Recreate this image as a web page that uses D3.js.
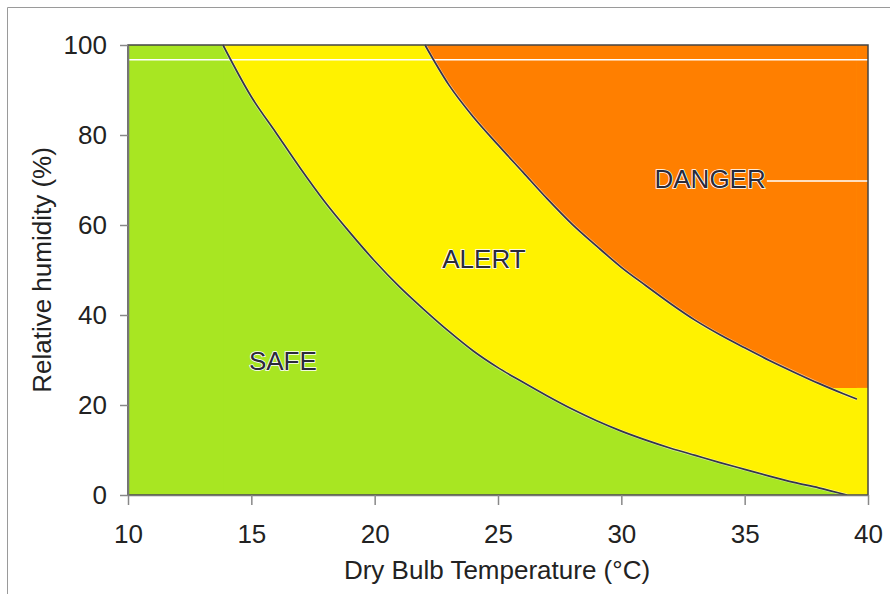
<!DOCTYPE html>
<html>
<head>
<meta charset="utf-8">
<script src="https://cdn.jsdelivr.net/npm/d3@7"></script>
<style>
  html, body { margin: 0; padding: 0; background: #fff; }
  svg { display: block; font-family: "Liberation Sans", Arial, sans-serif; }
</style>
</head>
<body>
<svg id="chart" width="890" height="594"></svg>
<script>
// ---- data ----
const xTicks = [10, 15, 20, 25, 30, 35, 40];
const yTicks = [0, 20, 40, 60, 80, 100];

// SAFE / ALERT boundary (temperature °C, relative humidity %)
const safeTemp = [13.85, 15,   16,   17,   18, 19,   20, 21,   22,   23,   24, 25,   26,   27, 28,   29,   30,   31,   32,   33,  34,  35,  36,  37,  38,  39.15];
const safeRH   = [100,   88.5, 80.5, 72.5, 65, 58.3, 52, 46.3, 41.2, 36.4, 32, 28.3, 25.1, 22, 19.1, 16.5, 14.2, 12.2, 10.4, 8.8, 7.2, 5.7, 4.2, 2.8, 1.6, 0];

// ALERT / DANGER boundary
const dangerTemp = [22.04, 23,   24, 25,   26,   27,   28,   29,   30,   31,   32,   33,   34,   35,   36,   37,   38,   39,   39.55];
const dangerRH   = [100,   91.2, 84, 77.8, 71.8, 65.8, 60.2, 55.3, 50.6, 46.5, 42.5, 38.8, 35.6, 32.7, 29.9, 27.3, 24.8, 22.5, 21.3];
const dangerFloorRH = 23.8;   // orange fill stops here at the right edge

const zoneNames = ["SAFE", "ALERT", "DANGER"];
const zoneTemp  = [16.28, 24.43, 33.6];
const zoneRH    = [27.8, 50.4, 68.2];

// white artefact lines in the original picture: [T0, T1, RH]
const whiteLines = [[10, 40, 96.7], [35.9, 40, 69.8]];

const xLabel = "Dry Bulb Temperature (°C)";
const yLabel = "Relative humidity (%)";

// ---- layout ----
const svg = d3.select("#chart");
const m = { left: 128, top: 45, right: 890 - 868, bottom: 594 - 495 };
const W = 890 - m.left - m.right, H = 594 - m.top - m.bottom;

const x = d3.scaleLinear().domain([10, 40]).range([0, W]);
const y = d3.scaleLinear().domain([0, 100]).range([H, 0]);

// outer frame of the picture
svg.append("path").attr("d", "M7.5,594 V7.5 H890").attr("fill", "none").attr("stroke", "#9a9a9a").attr("stroke-width", 1);

const g = svg.append("g").attr("transform", `translate(${m.left},${m.top})`);

const colGreen = "#a8e622", colYellow = "#fff200", colOrange = "#ff7f00";

// yellow background (ALERT)
g.append("rect").attr("width", W).attr("height", H).attr("fill", colYellow);

const safePts = safeTemp.map((t, i) => [t, safeRH[i]]);
const dangerPts = dangerTemp.map((t, i) => [t, dangerRH[i]]);
const curve = d3.curveMonotoneX;

// green region (SAFE)
const area = d3.area().x(d => x(d[0])).y1(d => y(d[1])).y0(H).curve(curve);
g.append("path").attr("d", area(safePts)).attr("fill", colGreen);
g.append("rect").attr("x", 0).attr("y", 0).attr("width", x(safeTemp[0]) + 0.5).attr("height", H).attr("fill", colGreen);

// orange region (DANGER)
g.append("clipPath").attr("id", "dclip")
  .append("rect").attr("x", 0).attr("y", 0).attr("width", W).attr("height", y(dangerFloorRH));
const areaTop = d3.area().x(d => x(d[0])).y1(d => y(d[1])).y0(0).curve(curve);
g.append("path")
  .attr("d", areaTop(dangerPts))
  .attr("fill", colOrange)
  .attr("clip-path", "url(#dclip)");
const lastDT = dangerTemp[dangerTemp.length - 1];
g.append("rect")
  .attr("x", x(lastDT) - 0.5)
  .attr("y", 0)
  .attr("width", W - x(lastDT) + 0.5)
  .attr("height", y(dangerFloorRH))
  .attr("fill", colOrange);

// white artefact lines
g.selectAll("line.wl").data(whiteLines).join("line")
  .attr("class", "wl")
  .attr("x1", d => x(d[0])).attr("x2", d => x(d[1]))
  .attr("y1", d => y(d[2])).attr("y2", d => y(d[2]))
  .attr("stroke", "#fff").attr("stroke-width", 1.5);

// boundary curves
const line = d3.line().x(d => x(d[0])).y(d => y(d[1])).curve(curve);
[safePts, dangerPts].forEach(pts => {
  g.append("path").attr("d", line(pts)).attr("fill", "none")
    .attr("stroke", "#ffffff").attr("stroke-width", 3).attr("stroke-opacity", 0.5);
  g.append("path").attr("d", line(pts)).attr("fill", "none")
    .attr("stroke", "#34344e").attr("stroke-width", 1.7);
});

// zone labels
g.selectAll("text.zone").data(zoneNames).join("text")
  .attr("class", "zone")
  .attr("x", (d, i) => x(zoneTemp[i]))
  .attr("y", (d, i) => y(zoneRH[i]))
  .attr("text-anchor", "middle")
  .attr("font-size", 26)
  .attr("fill", "#2a2a3a")
  .attr("stroke", "#ffffff")
  .attr("stroke-width", 1.6)
  .attr("paint-order", "stroke")
  .text(d => d);

// plot frame
g.append("rect").attr("width", W).attr("height", H).attr("fill", "none")
  .attr("stroke", "#444").attr("stroke-width", 1.5);

// axes
const xAxis = g.append("g").attr("transform", `translate(0,${H})`)
  .call(d3.axisBottom(x).tickValues(xTicks).tickSize(10).tickPadding(20).tickSizeOuter(0));
const yAxis = g.append("g")
  .call(d3.axisLeft(y).tickValues(yTicks).tickSize(8).tickPadding(13).tickSizeOuter(0));
[xAxis, yAxis].forEach(a => {
  a.select(".domain").attr("stroke", "#777").attr("stroke-width", 1.5);
  a.selectAll(".tick line").attr("stroke", "#888").attr("stroke-width", 1.5);
  a.selectAll(".tick text").attr("font-size", 26).attr("fill", "#222")
    .attr("font-family", "'Liberation Sans', Arial, sans-serif");
});

// axis titles
svg.append("text").attr("x", 497).attr("y", 579).attr("text-anchor", "middle")
  .attr("font-size", 26).attr("fill", "#222").text(xLabel);
svg.append("text").attr("transform", "translate(51,270) rotate(-90)").attr("text-anchor", "middle")
  .attr("font-size", 26).attr("fill", "#222").text(yLabel);
</script>
</body>
</html>
